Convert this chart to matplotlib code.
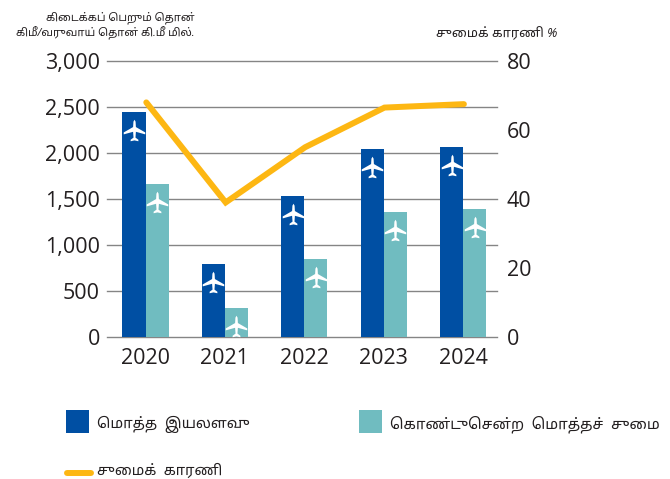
import re
import matplotlib
matplotlib.use("Agg")
import matplotlib.pyplot as plt
from matplotlib.path import Path
from matplotlib.transforms import offset_copy
from matplotlib.patches import Rectangle
from matplotlib.lines import Line2D
from matplotlib import font_manager as fm
import numpy as np

years = ["2020", "2021", "2022", "2023", "2024"]
capacity = [2446, 793, 1533, 2043, 2065]
carried = [1663, 315, 848, 1359, 1391]
load_factor = [68, 39, 55, 66.5, 67.5]

left_title = "கிடைக்கப் பெறும் தொன்\nகிமீ/வருவாய் தொன் கி.மீ மில்."
right_title = "சுமைக் காரணி %"
legend_capacity = "மொத்த  இயலளவு"
legend_carried = "கொண்டுசென்ற  மொத்தச்  சுமை"
legend_factor = "சுமைக்  காரணி"

DARK = "#004fa3"
TEAL = "#70bcc0"
GOLD = "#fdb713"
GRID = "#858585"
TXT = "#231f20"


def shaped(text):
    """matplotlib does no complex-script shaping: put Tamil pre-base vowels in display order."""
    text = re.sub("([\u0b95-\u0bb9])\u0bca", "\u0bc6\\1\u0bbe", text)
    text = re.sub("([\u0b95-\u0bb9])\u0bcb", "\u0bc7\\1\u0bbe", text)
    text = re.sub("([\u0b95-\u0bb9])\u0bcc", "\u0bc6\\1\u0bd7", text)
    text = re.sub("([\u0b95-\u0bb9])([\u0bc6\u0bc7\u0bc8])", "\\2\\1", text)
    return text


names = {f.name for f in fm.fontManager.ttflist}
FONTS = ["Noto Sans Tamil", "Lohit Tamil", "Noto Sans", "DejaVu Sans", "Noto Sans CJK SC"]
FONTS = [f for f in FONTS if f in names] or ["DejaVu Sans"]
plt.rcParams["font.family"] = ["Open Sans"] + FONTS

W, H = 670, 479
fig = plt.figure(figsize=(W / 100, H / 100), dpi=100, facecolor="white")


def px(x0, y0, x1, y1):
    return [x0 / W, 1 - y1 / H, (x1 - x0) / W, (y1 - y0) / H]


ax = fig.add_axes(px(107, 61, 497, 337))
ax.set_xlim(-0.485, 4.427)
ax.set_ylim(0, 3000)
ax.set_yticks(range(0, 3001, 500))
ax.set_yticklabels([f"{v:,}" for v in range(0, 3001, 500)])
x = np.arange(len(years))
ax.set_xticks(x)
ax.set_xticklabels(years)
ax.tick_params(length=0, labelsize=15.5, labelcolor=TXT)
ax.tick_params(axis="y", pad=5)
ax.tick_params(axis="x", pad=8)
ax.grid(axis="y", color=GRID, lw=1.0, clip_on=False)
ax.set_axisbelow(True)
for s in ax.spines.values():
    s.set_visible(False)

bw = 0.29
ax.bar(x - bw / 2, capacity, bw, color=DARK, zorder=2)
ax.bar(x + bw / 2, carried, bw, color=TEAL, zorder=2)

plane = Path(
    [(0, 1), (0.1, 0.82), (0.13, 0.32), (1, -0.18), (1, -0.36), (0.13, -0.12), (0.09, -0.66), (0.36, -0.86),
     (0.36, -1), (0, -0.92), (-0.36, -1), (-0.36, -0.86), (-0.09, -0.66), (-0.13, -0.12), (-1, -0.36), (-1, -0.18),
     (-0.13, 0.32), (-0.1, 0.82), (0, 1)],
    closed=True,
)
down = offset_copy(ax.transData, fig=fig, x=0, y=-18 * 72 / 100, units="points")
ax.plot(x - bw / 2, capacity, ls="", marker=plane, ms=15.5, mfc="white", mew=0, transform=down, zorder=3)
ax.plot(x + bw / 2, carried, ls="", marker=plane, ms=15.5, mfc="white", mew=0, transform=down, zorder=3)

ax2 = ax.twinx()
ax2.set_ylim(0, 80)
ax2.set_yticks(range(0, 81, 20))
ax2.tick_params(length=0, labelsize=15.5, labelcolor=TXT, pad=7)
for s in ax2.spines.values():
    s.set_visible(False)
ax2.plot(x + 0.01, load_factor, color=GOLD, lw=4.3, solid_capstyle="round", solid_joinstyle="miter", zorder=4)

fig.text(195 / W, 1 - 26 / H, shaped(left_title), ha="right", va="center", style="italic", fontsize=8,
         color=TXT, linespacing=1.3)
fig.text(557 / W, 1 - 33 / H, shaped(right_title), ha="right", va="center", style="italic", fontsize=9.3, color=TXT)

fig.add_artist(Rectangle((66 / W, 1 - 433 / H), 23 / W, 23 / H, transform=fig.transFigure, color=DARK, lw=0))
fig.add_artist(Rectangle((359 / W, 1 - 433 / H), 23 / W, 23 / H, transform=fig.transFigure, color=TEAL, lw=0))
fig.add_artist(Line2D([67 / W, 91 / W], [1 - 472.5 / H] * 2, transform=fig.transFigure, color=GOLD, lw=4.3,
                      solid_capstyle="round"))
fig.text(97 / W, 1 - 424 / H, shaped(legend_capacity), va="center", fontsize=10.7, color=TXT)
fig.text(390 / W, 1 - 424 / H, shaped(legend_carried), va="center", fontsize=10.8, color=TXT)
fig.text(97 / W, 1 - 471 / H, shaped(legend_factor), va="center", fontsize=10.5, color=TXT)

fig.savefig("out.png", dpi=100)
